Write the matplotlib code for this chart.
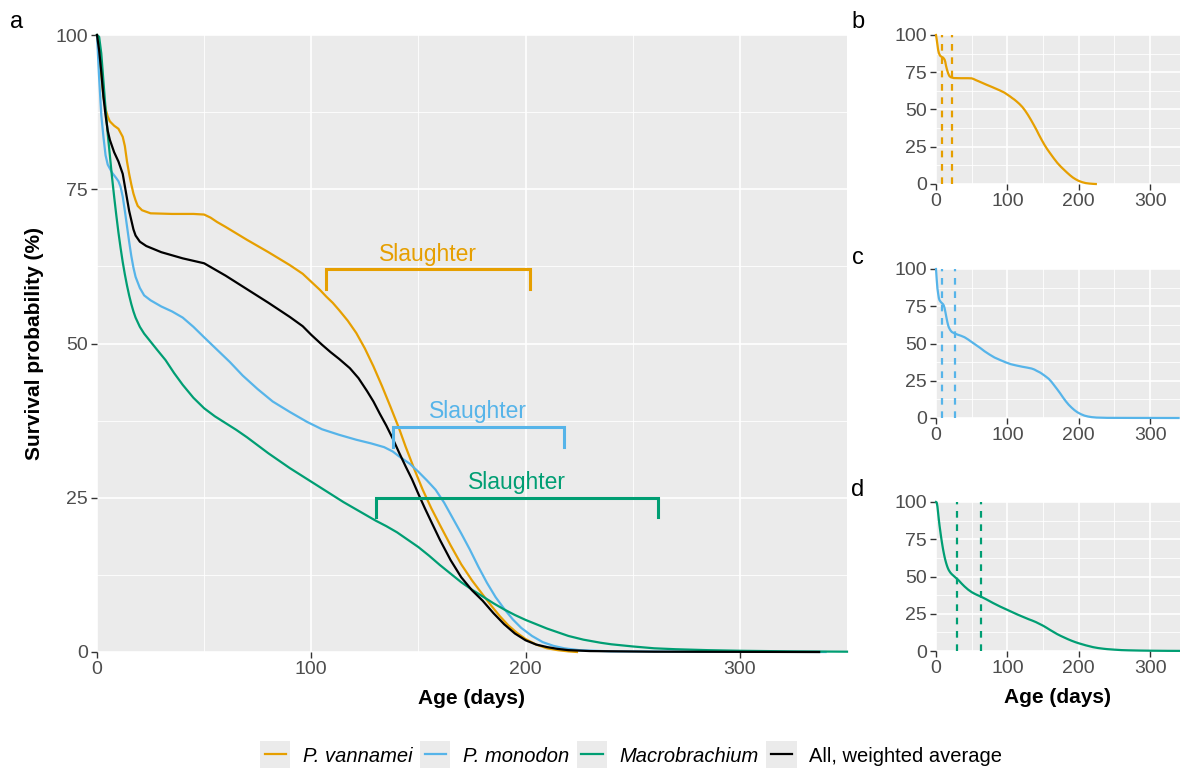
import numpy as np
import matplotlib
matplotlib.use("Agg")
import matplotlib.pyplot as plt
from matplotlib.patches import Rectangle
from matplotlib.lines import Line2D
from matplotlib.legend_handler import HandlerBase
from matplotlib.ticker import MultipleLocator

plt.rcParams['font.family'] = ['Liberation Sans', 'DejaVu Sans']

# survival curves (age in days, survival in %)
vannamei_age = [0, 1, 2, 3, 4, 5, 6, 8, 10, 12, 13, 14, 15, 16, 17, 18, 19, 21, 25, 35, 45,
                50, 53, 56, 60, 70, 80, 90, 96, 100, 104, 107, 110, 113, 117, 121, 125, 129,
                133, 137, 141, 144, 148, 152, 156, 160, 165, 170, 175, 180, 184, 188, 192,
                196, 200, 205, 210, 215, 220, 224]
vannamei_surv = [100, 97, 93.5, 90, 88, 86.8, 86, 85.3, 84.8, 83.5, 82, 79.5, 77.5, 75.8,
                 74.3, 73.2, 72.3, 71.6, 71.1, 71, 71, 70.9, 70.4, 69.7, 68.9, 66.8, 64.8,
                 62.7, 61.3, 60, 58.7, 57.6, 56.6, 55.4, 53.7, 51.7, 49.2, 46.3, 43.1, 39.7,
                 36.2, 33.3, 29.7, 26.3, 23.3, 20.6, 17.3, 14.2, 11.6, 9.3, 7.5, 5.8, 4.3,
                 3.1, 2.1, 1.2, 0.6, 0.3, 0.1, 0]

monodon_age = [0, 1, 2, 3, 4, 5, 7, 9, 10, 11, 12, 13, 14, 15, 16, 17, 18, 20, 22, 25, 30,
               35, 40, 45, 50, 56, 62, 68, 75, 82, 90, 98, 105, 113, 121, 128, 134, 138, 141,
               146, 150, 154, 158, 162, 166, 170, 174, 178, 182, 186, 190, 194, 198, 203,
               208, 213, 218, 225, 240, 280, 340]
monodon_surv = [100, 93, 87, 83.5, 80.5, 79, 77.7, 76.8, 76.3, 75.4, 73.8, 71.5, 69, 66.5,
                64.2, 62.3, 60.8, 59, 57.8, 57, 56, 55.2, 54.2, 52.7, 51, 49, 47, 44.8, 42.6,
                40.6, 38.9, 37.3, 36.1, 35.2, 34.4, 33.8, 33.2, 32.5, 31.7, 30.5, 29.2, 27.8,
                26.3, 24.2, 21.7, 19.2, 16.6, 13.8, 11.2, 8.9, 7, 5.3, 3.9, 2.6, 1.6, 1, 0.6,
                0.3, 0.1, 0.05, 0]

macro_age = [0, 1, 2, 3, 4, 5, 6, 7, 8, 9, 10, 11, 12, 13, 14, 15, 16, 17, 18, 20, 22, 25,
             28, 32, 36, 40, 45, 50, 55, 60, 65, 70, 75, 80, 85, 90, 95, 100, 105, 110, 115,
             120, 125, 130, 135, 140, 145, 150, 155, 160, 165, 170, 175, 180, 185, 190, 195,
             200, 205, 210, 215, 220, 227, 235, 240, 250, 260, 270, 285, 300, 325, 350]
macro_surv = [100, 99.7, 97, 92.5, 88, 84, 80.5, 77, 73.8, 70.8, 68, 65.5, 63.2, 61.2, 59.4,
              57.8, 56.4, 55.2, 54.2, 52.7, 51.6, 50.3, 49, 47.3, 45.2, 43.3, 41.2, 39.5,
              38.2, 37.1, 36, 34.8, 33.5, 32.2, 31, 29.8, 28.7, 27.6, 26.5, 25.4, 24.3, 23.3,
              22.3, 21.3, 20.4, 19.4, 18.2, 17, 15.6, 14.1, 12.7, 11.3, 10.1, 9, 7.9, 6.9, 6,
              5.2, 4.5, 3.8, 3.2, 2.6, 2, 1.5, 1.25, 0.9, 0.6, 0.45, 0.3, 0.2, 0.1, 0.05]

all_age = [0, 1, 2, 3, 4, 5, 6, 8, 10, 12, 13, 14, 15, 16, 17, 18, 20, 23, 30, 40, 50, 55,
           60, 70, 80, 90, 96, 100, 105, 109, 113, 118, 122, 126, 129, 132, 135, 138, 141,
           144, 147, 150, 153, 156, 160, 165, 170, 175, 180, 185, 190, 195, 200, 205, 210,
           215, 220, 230, 260, 337]
all_surv = [100, 97.5, 94, 90, 87, 84.5, 83, 81, 79.5, 77.5, 75.5, 73.5, 71.5, 70, 68.5,
            67.5, 66.5, 65.8, 64.8, 63.8, 63, 62, 61, 58.8, 56.6, 54.3, 52.8, 51.4, 49.8,
            48.6, 47.5, 46, 44.4, 42.3, 40.6, 38.6, 36.7, 34.6, 32.3, 30.1, 28, 25.6, 23.3,
            21.1, 18.2, 14.9, 12.1, 10, 8.3, 6.3, 4.5, 3, 1.9, 1.2, 0.8, 0.5, 0.3, 0.15,
            0.05, 0]

labels = ['P. vannamei', 'P. monodon', 'Macrobrachium', 'All, weighted average']
colors = ['#E69F00', '#56B4E9', '#009E73', '#000000']

# slaughter windows (days) and bracket height (%)
slaughter_start = [107, 138, 130]
slaughter_end = [202, 218, 262]
slaughter_level = [62, 36.5, 25]

# dashed markers in the small panels
vlines = [[9, 22], [9, 27], [29, 63]]

W, H = 1180, 769
fig = plt.figure(figsize=(W / 100, H / 100), dpi=100)


def px_axes(left, right, top, bottom):
    return fig.add_axes([left / W, 1 - bottom / H, (right - left) / W, (bottom - top) / H])


def style(ax, xmax):
    ax.set_facecolor('#EBEBEB')
    for s in ax.spines.values():
        s.set_visible(False)
    ax.set_xlim(0, xmax)
    ax.set_ylim(0, 100)
    ax.xaxis.set_major_locator(MultipleLocator(100))
    ax.xaxis.set_minor_locator(MultipleLocator(50))
    ax.yaxis.set_major_locator(MultipleLocator(25))
    ax.yaxis.set_minor_locator(MultipleLocator(12.5))
    ax.grid(which='major', color='white', lw=1.2)
    ax.grid(which='minor', color='white', lw=0.6)
    ax.set_axisbelow(True)
    ax.tick_params(which='major', length=4, width=1.0, color='#333333',
                   labelsize=14, labelcolor='#4D4D4D', pad=2.5)
    ax.tick_params(which='minor', length=0)


ax = px_axes(97, 847, 35, 652)
style(ax, 350)
series = [(vannamei_age, vannamei_surv), (monodon_age, monodon_surv),
          (macro_age, macro_surv), (all_age, all_surv)]
handles = []
for (a, s), c, lab in zip(series, colors, labels):
    h, = ax.plot(a, s, color=c, lw=1.6, clip_on=False, label=lab)
    handles.append(h)

for x0, x1, y, c in zip(slaughter_start, slaughter_end, slaughter_level, colors):
    ax.plot([x0, x0, x1, x1], [y - 3.2, y, y, y - 3.2], color=c, lw=2.2,
            solid_joinstyle='miter')
    ax.text((x0 + x1) / 2, y + 0.6, 'Slaughter', color=c, fontsize=16.5,
            ha='center', va='bottom')

ax.set_xlabel('Age (days)', fontsize=15, fontweight='bold', labelpad=8)
ax.set_ylabel('Survival probability (%)', fontsize=15, fontweight='bold', labelpad=8)

small = [(35, 184), (269, 418), (502, 651)]
for i, (top, bot) in enumerate(small):
    sa = px_axes(936, 1180, top, bot)
    style(sa, 342)
    a, s = series[i]
    sa.plot(a, s, color=colors[i], lw=1.6, clip_on=False)
    for v in vlines[i]:
        sa.axvline(v, color=colors[i], lw=1.6, ls=(0, (3, 3)))
    if i == 2:
        sa.set_xlabel('Age (days)', fontsize=15, fontweight='bold', labelpad=8)

for lab, x, y in [('a', 17, 22), ('b', 858, 22), ('c', 858, 258), ('d', 858, 490)]:
    fig.text(x / W, 1 - y / H, lab, fontsize=17, ha='center', va='center')


class KeyHandler(HandlerBase):
    def create_artists(self, legend, orig_handle, xdescent, ydescent, width, height,
                       fontsize, trans):
        cy = height / 2 - ydescent
        bg = Rectangle((-xdescent, cy - width * 0.46), width, width * 0.92,
                       facecolor='#EBEBEB', edgecolor='none', transform=trans)
        ln = Line2D([-xdescent + width * 0.15, -xdescent + width * 0.85], [cy, cy],
                    color=orig_handle.get_color(), lw=orig_handle.get_linewidth(),
                    transform=trans)
        return [bg, ln]


leg = fig.legend(handles=handles, labels=labels, loc='center', ncol=4,
                 bbox_to_anchor=(631 / W, 1 - 756 / H), frameon=False, fontsize=14.5,
                 handlelength=1.5, handletextpad=0.6, columnspacing=0.4,
                 handler_map={Line2D: KeyHandler()})
for t in leg.get_texts()[:3]:
    t.set_fontstyle('italic')

fig.savefig('out.png', dpi=100)
